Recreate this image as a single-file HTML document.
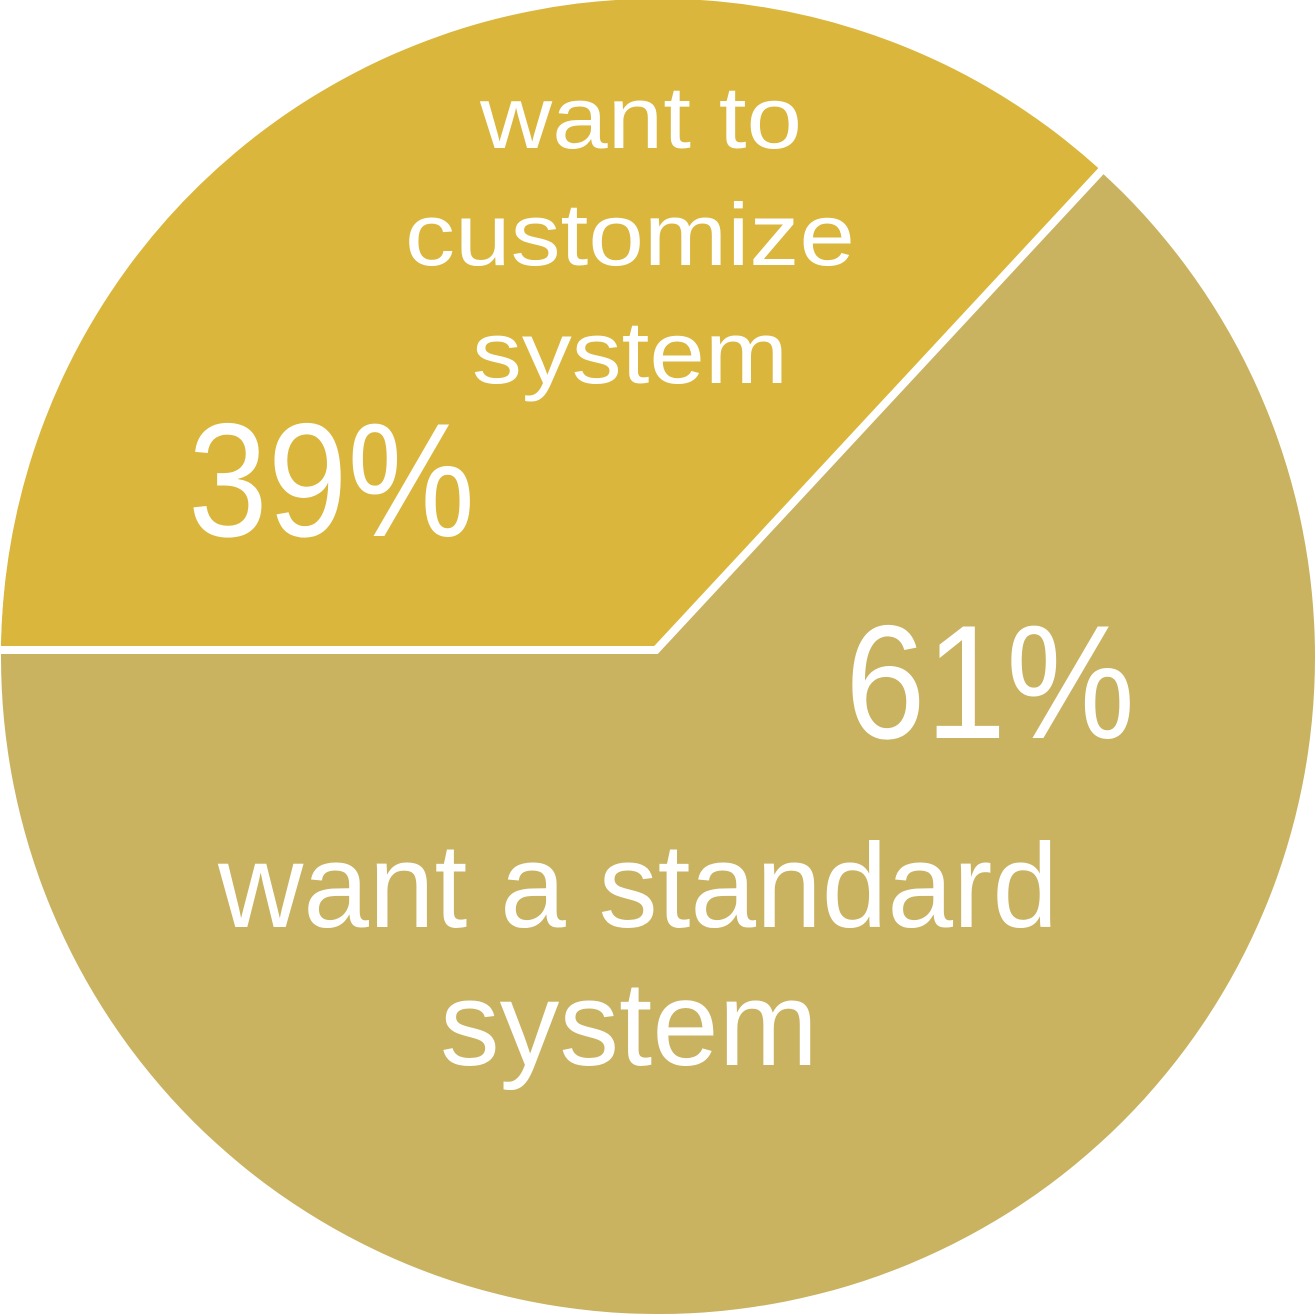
<!DOCTYPE html>
<html><head><meta charset="utf-8"><style>
html,body{margin:0;padding:0;background:#fff;}
svg{display:block;}
text{font-family:"Liberation Sans",sans-serif;fill:#fff;}
</style></head><body>
<svg width="1316" height="1314" viewBox="0 0 1316 1314" xmlns="http://www.w3.org/2000/svg">
<circle cx="658" cy="657" r="657" fill="#C9B260"/>
<path d="M656 650 L1.03 650 A657 657 0 0 1 1100.5 170 Z" fill="#DAB63C"/>
<polyline points="1,650 656,650 1102,170" fill="none" stroke="#fff" stroke-width="8"/>
<text x="480" y="148" font-size="88" textLength="322" lengthAdjust="spacingAndGlyphs">want to</text>
<text x="405" y="265" font-size="88" textLength="450" lengthAdjust="spacingAndGlyphs">customize</text>
<text x="472" y="383" font-size="88" textLength="316" lengthAdjust="spacingAndGlyphs">system</text>
<text x="188" y="536" font-size="162" textLength="287" lengthAdjust="spacingAndGlyphs">39%</text>
<text x="845" y="738" font-size="162" textLength="290" lengthAdjust="spacingAndGlyphs">61%</text>
<text x="218" y="927" font-size="120" textLength="840" lengthAdjust="spacingAndGlyphs">want a standard</text>
<text x="440" y="1065" font-size="120" textLength="378" lengthAdjust="spacingAndGlyphs">system</text>
</svg>
</body></html>
